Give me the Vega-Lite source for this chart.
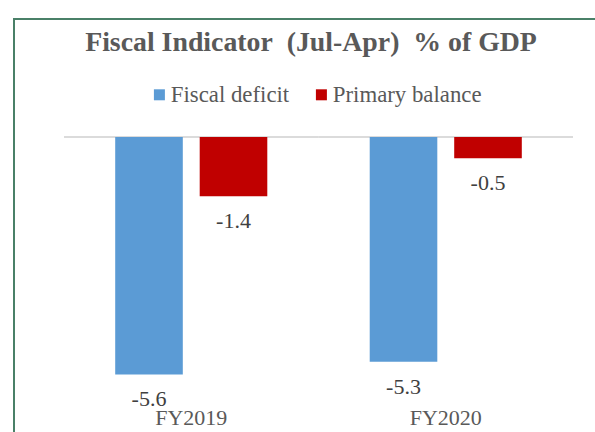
{
  "$schema": "https://vega.github.io/schema/vega-lite/v6.json",
  "width": 582,
  "height": 414,
  "autosize": {"type": "none"},
  "padding": {"left": 14, "top": 19, "right": -1, "bottom": -1},
  "background": "white",
  "config": {"view": {"stroke": "#4A8068", "strokeWidth": 2}},
  "title": {
    "text": "Fiscal Indicator\u00a0\u00a0(Jul-Apr)\u00a0\u00a0% of GDP",
    "font": "Liberation Serif",
    "fontSize": 27.8,
    "fontWeight": "bold",
    "color": "#595959",
    "anchor": "middle",
    "baseline": "alphabetic",
    "offset": -35,
    "dy": 25,
    "dx": 6
  },
  "data": {
    "values": [
      {"year": "FY2019", "series": "Fiscal deficit", "value": -5.6},
      {"year": "FY2019", "series": "Primary balance", "value": -1.4},
      {"year": "FY2020", "series": "Fiscal deficit", "value": -5.3},
      {"year": "FY2020", "series": "Primary balance", "value": -0.5}
    ]
  },
  "layer": [
    {
      "mark": {"type": "rule", "color": "#D9D9D9", "strokeWidth": 1.5},
      "encoding": {
        "x": {"field": "year", "type": "nominal", "bandPosition": 0, "scale": {"paddingInner": 0, "paddingOuter": 0.1434, "align": 0.685}},
        "x2": {"field": "year", "bandPosition": 1},
        "y": {"datum": 0, "type": "quantitative", "scale": {"domain": [-6.981, 2.783], "nice": false, "zero": false}, "axis": null}
      }
    },
    {
      "mark": {"type": "bar"},
      "encoding": {
        "x": {
          "field": "year",
          "type": "nominal",
          "axis": {
            "orient": "bottom",
            "title": null,
            "domain": false,
            "ticks": false,
            "grid": false,
            "labelPadding": 0,
            "offset": -16,
            "labelAngle": 0,
            "labelAlign": "center",
            "labelFont": "Liberation Serif",
            "labelFontSize": 22,
            "labelColor": "#595959"
          }
        },
        "xOffset": {"field": "series", "type": "nominal", "scale": {"paddingInner": 0.2, "paddingOuter": 0.606}},
        "y": {"field": "value", "type": "quantitative", "axis": null},
        "color": {
          "field": "series",
          "type": "nominal",
          "scale": {"domain": ["Fiscal deficit", "Primary balance"], "range": ["#5B9BD5", "#C00000"]},
          "legend": {
            "orient": "none",
            "legendX": 134,
            "legendY": 64,
            "direction": "horizontal",
            "columns": 2,
            "title": null,
            "symbolType": "square",
            "symbolSize": 121,
            "symbolStrokeWidth": 0,
            "symbolOpacity": 1,
            "labelFont": "Liberation Serif",
            "labelFontSize": 22.8,
            "labelColor": "#595959",
            "labelOffset": 0,
            "labelLimit": 0,
            "columnPadding": 20
          }
        }
      }
    },
    {
      "mark": {"type": "text", "dy": 25, "baseline": "middle", "align": "center", "font": "Liberation Serif", "fontSize": 22, "color": "#404040"},
      "encoding": {
        "x": {"field": "year", "type": "nominal"},
        "xOffset": {"field": "series", "type": "nominal"},
        "y": {"field": "value", "type": "quantitative"},
        "text": {"field": "value", "type": "nominal"}
      }
    }
  ]
}
